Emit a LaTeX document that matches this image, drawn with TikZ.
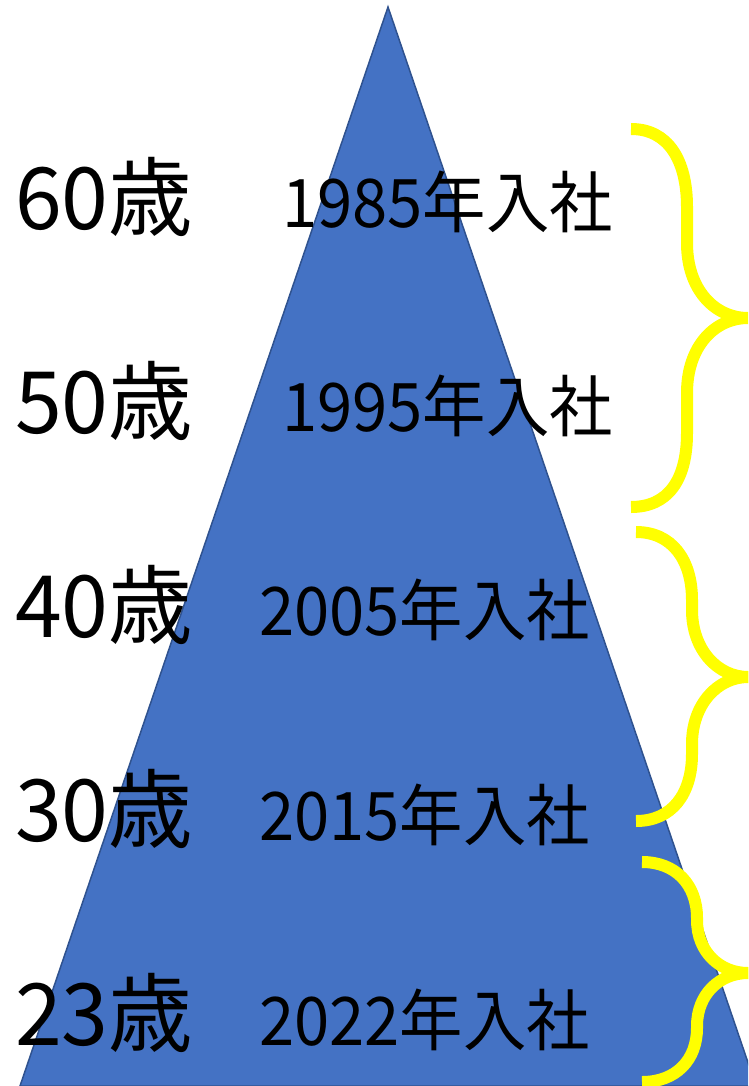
\documentclass[tikz,border=0pt]{standalone}
\usepackage{fontspec}
\newfontfamily\jp{Noto Sans CJK JP}
\definecolor{tri}{HTML}{4472C4}
\definecolor{triedge}{HTML}{2F528F}
\definecolor{brace}{HTML}{FFFF00}
\begin{document}
\begin{tikzpicture}[x=1pt,y=-1pt,
  age/.style={anchor=base west,inner sep=0pt,font=\jp\fontsize{86}{86}\selectfont,xscale=0.98},
  year/.style={anchor=base west,inner sep=0pt,font=\jp\fontsize{67}{67}\selectfont,xscale=0.945},
  bracestyle/.style={draw=brace,line width=12pt,line cap=butt}]
\useasboundingbox (0,0) rectangle (748,1086);
\begin{scope}
\clip (0,0) rectangle (748,1086);
\draw[fill=tri,draw=triedge,line width=1.5pt,line join=miter] (388,7) -- (20,1086) -- (756,1086) -- cycle;
\end{scope}
% left age labels
\node[age] (a60) at (15,229) {60歳};
\node[age] (a50) at (15,433) {50歳};
\node[age] (a40) at (15,637) {40歳};
\node[age] (a30) at (15,841) {30歳};
\node[age] (a23) at (15,1045) {23歳};
% year labels
\node[year] (y1985) at (282,227) {1985年入社};
\node[year] (y1995) at (282,431) {1995年入社};
\node[year] (y2005) at (259,635) {2005年入社};
\node[year] (y2015) at (259,840) {2015年入社};
\node[year] (y2022) at (259,1045) {2022年入社};
% braces
\coordinate (b1t) at (631,129);
\coordinate (b1m) at (748,318);
\coordinate (b1b) at (631,507);
\draw[bracestyle] (b1t) .. controls (668,129) and (687,160) .. (687,207) -- (687,243)
  .. controls (687,290) and (715,318) .. (b1m)
  .. controls (715,318) and (687,346) .. (687,393) -- (687,433)
  .. controls (687,480) and (668,507) .. (b1b);
\coordinate (b2t) at (636,532);
\coordinate (b2m) at (748,677);
\coordinate (b2b) at (636,821);
\draw[bracestyle] (b2t) .. controls (672,532) and (692,560) .. (692,600) -- (692,610)
  .. controls (692,650) and (718,677) .. (b2m)
  .. controls (718,677) and (692,704) .. (692,744) -- (692,754)
  .. controls (692,794) and (672,821) .. (b2b);
\coordinate (b3t) at (642,862);
\coordinate (b3m) at (748,973);
\coordinate (b3b) at (642,1082);
\draw[bracestyle] (b3t) .. controls (676,862) and (697,885) .. (697,918) -- (697,920)
  .. controls (697,952) and (720,973) .. (b3m)
  .. controls (720,973) and (697,994) .. (697,1026) -- (697,1028)
  .. controls (697,1060) and (676,1082) .. (b3b);
\end{tikzpicture}
\end{document}
